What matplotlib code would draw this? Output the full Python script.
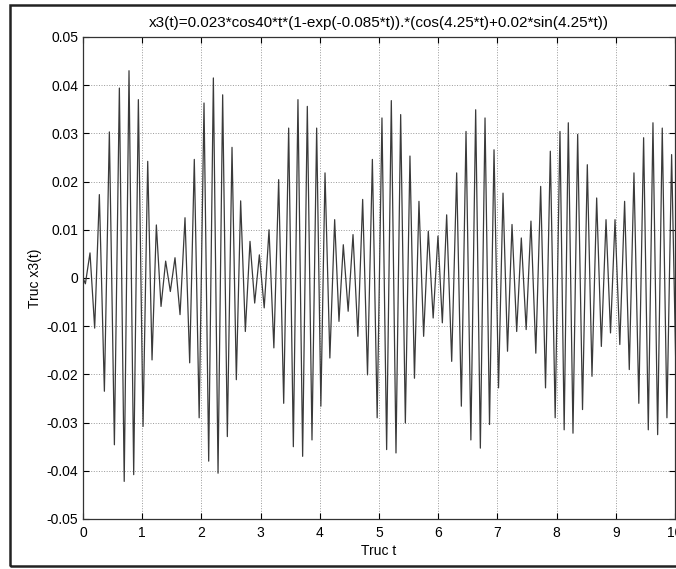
import numpy as np
from matplotlib import pyplot as plt
from matplotlib.patches import Rectangle

plt.rcParams['font.family'] = ['Liberation Sans', 'DejaVu Sans']

# Cac dinh (cuc dai) doc tu hinh
t_max = [0.118, 0.276, 0.445, 0.614, 0.777, 0.935, 1.093, 1.239, 1.396, 1.554, 1.723, 1.880,
         2.044, 2.202, 2.359, 2.517, 2.663, 2.821, 2.979, 3.142, 3.305, 3.474, 3.631, 3.789, 3.947,
         4.088, 4.251, 4.397, 4.561, 4.724, 4.888, 5.050, 5.208, 5.366, 5.523, 5.675, 5.833, 5.996,
         6.143, 6.312, 6.470, 6.633, 6.791, 6.943, 7.095, 7.247, 7.404, 7.567, 7.731, 7.894,
         8.057, 8.198, 8.356, 8.519, 8.677, 8.835, 8.987, 9.149, 9.307, 9.470, 9.628, 9.785, 9.943]
x_max = [0.0052, 0.0173, 0.0303, 0.0394, 0.0430, 0.0370, 0.0242, 0.0110, 0.0035, 0.0042, 0.0125, 0.0246,
         0.0363, 0.0415, 0.0380, 0.0271, 0.0160, 0.0076, 0.0048, 0.0100, 0.0204, 0.0311, 0.0370, 0.0356, 0.0311,
         0.0218, 0.0121, 0.0069, 0.0090, 0.0163, 0.0246, 0.0332, 0.0368, 0.0339, 0.0253, 0.0159, 0.0097, 0.0087,
         0.0131, 0.0218, 0.0304, 0.0349, 0.0332, 0.0266, 0.0176, 0.0111, 0.0083, 0.0118, 0.0190, 0.0263,
         0.0304, 0.0322, 0.0298, 0.0235, 0.0166, 0.0121, 0.0121, 0.0159, 0.0218, 0.0291, 0.0322, 0.0311, 0.0256]

# Cac day (cuc tieu)
t_min = [0.197, 0.361, 0.530, 0.696, 0.856, 1.014, 1.166, 1.318, 1.475, 1.639, 1.802, 1.962,
         2.123, 2.281, 2.438, 2.590, 2.742, 2.900, 3.061, 3.224, 3.390, 3.553, 3.710, 3.868, 4.018,
         4.170, 4.324, 4.479, 4.643, 4.806, 4.969, 5.129, 5.287, 5.445, 5.599, 5.754, 5.915, 6.070,
         6.228, 6.391, 6.552, 6.712, 6.867, 7.019, 7.171, 7.326, 7.486, 7.649, 7.813, 7.976,
         8.128, 8.277, 8.438, 8.598, 8.756, 8.911, 9.068, 9.228, 9.389, 9.549, 9.707, 9.864, 10.02]
x_min = [-0.0104, -0.0235, -0.0346, -0.0422, -0.0408, -0.0308, -0.0170, -0.0059, -0.0028, -0.0076, -0.0176, -0.0290,
         -0.0380, -0.0405, -0.0329, -0.0211, -0.0111, -0.0052, -0.0062, -0.0145, -0.0260, -0.0350, -0.0370, -0.0336, -0.0266,
         -0.0166, -0.0090, -0.0069, -0.0121, -0.0201, -0.0290, -0.0356, -0.0363, -0.0301, -0.0208, -0.0121, -0.0083, -0.0093,
         -0.0173, -0.0266, -0.0336, -0.0353, -0.0304, -0.0228, -0.0152, -0.0111, -0.0107, -0.0156, -0.0228, -0.0290,
         -0.0315, -0.0322, -0.0273, -0.0204, -0.0142, -0.0114, -0.0138, -0.0190, -0.0260, -0.0315, -0.0325, -0.0290, -0.0220]

t_start = [0.0, 0.04]
x_start = [0.0, -0.0012]

x_ticks = [0, 1, 2, 3, 4, 5, 6, 7, 8, 9, 10]
y_ticks = [-0.05, -0.04, -0.03, -0.02, -0.01, 0, 0.01, 0.02, 0.03, 0.04, 0.05]
y_labels = ['-0.05', '-0.04', '-0.03', '-0.02', '-0.01', '0', '0.01', '0.02', '0.03', '0.04', '0.05']


if __name__ == '__main__':
    t = np.concatenate([t_start, np.column_stack([t_max, t_min]).ravel()])
    x = np.concatenate([x_start, np.column_stack([x_max, x_min]).ravel()])

    fig = plt.figure(figsize=(6.76, 5.69), dpi=100, facecolor='white')
    # khung ngoai cua ban scan
    fig.patches.append(Rectangle((0.015, 0.005), 1.0, 0.986, transform=fig.transFigure,
                                 fill=False, edgecolor='#222222', lw=1.8))
    ax = fig.add_axes([0.1228, 0.0879, 0.8757, 0.8471])
    ax.plot(t, x, color='#3a3a3a', lw=0.9)

    ax.set_xlim(0, 10)
    ax.set_ylim(-0.05, 0.05)
    ax.set_xticks(x_ticks)
    ax.set_yticks(y_ticks)
    ax.set_yticklabels(y_labels)
    ax.tick_params(direction='in', top=True, right=True, labelsize=10, length=4)
    ax.tick_params(axis='x', pad=5)
    ax.tick_params(axis='y', pad=3.5)
    ax.grid(True, linestyle=':', color='#999999', lw=0.7)
    for s in ax.spines.values():
        s.set_linewidth(0.9)
        s.set_color('#333333')

    ax.set_title('x3(t)=0.023*cos40*t*(1-exp(-0.085*t)).*(cos(4.25*t)+0.02*sin(4.25*t))',
                 fontsize=11, pad=7)
    ax.set_xlabel('Truc t', fontsize=10, labelpad=3)
    ax.set_ylabel('Truc x3(t)', fontsize=10, labelpad=3)

    plt.savefig('out.png', dpi=100, facecolor=fig.get_facecolor())
